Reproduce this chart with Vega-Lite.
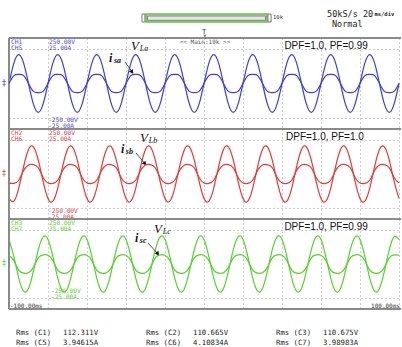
{
"$schema": "https://vega.github.io/schema/vega-lite/v6.json",
"background": "white",
"padding": {"left": 2, "top": 0, "right": 0, "bottom": 0},
"spacing": 0,
"bounds": "flush",
"config": {"view": {"stroke": null}, "axis": {"grid": true, "gridColor": "#9a9a9a", "gridDash": [1, 3], "gridWidth": 1, "labels": false, "ticks": false, "domain": false, "minExtent": 0, "maxExtent": 0}},
"data": {"values": [{}]},
"datasets": {"wave": [
{"t":-100,"va":0,"ia":0,"vb":-135.5,"ib":-5.03,"vc":135.5,"ic":4.88},
{"t":-97.5,"va":112.3,"ia":4.34,"vb":-151.2,"ib":-5.2,"vc":40.5,"ic":1.86},
{"t":-95,"va":158.8,"ia":5.02,"vb":-78.3,"ib":-3.49,"vc":-78.3,"ic":-3.38},
{"t":-92.5,"va":112.3,"ia":4.34,"vb":40.5,"ib":1.91,"vc":-151.2,"ic":-5.05},
{"t":-90,"va":0,"ia":0,"vb":135.5,"ib":5.03,"vc":-135.5,"ic":-4.88},
{"t":-87.5,"va":-112.3,"ia":-4.34,"vb":151.2,"ib":5.2,"vc":-40.5,"ic":-1.86},
{"t":-85,"va":-158.8,"ia":-5.02,"vb":78.3,"ib":3.49,"vc":78.3,"ic":3.38},
{"t":-82.5,"va":-112.3,"ia":-4.34,"vb":-40.5,"ib":-1.91,"vc":151.2,"ic":5.05},
{"t":-80,"va":0,"ia":0,"vb":-135.5,"ib":-5.03,"vc":135.5,"ic":4.88},
{"t":-77.5,"va":112.3,"ia":4.34,"vb":-151.2,"ib":-5.2,"vc":40.5,"ic":1.86},
{"t":-75,"va":158.8,"ia":5.02,"vb":-78.3,"ib":-3.49,"vc":-78.3,"ic":-3.38},
{"t":-72.5,"va":112.3,"ia":4.34,"vb":40.5,"ib":1.91,"vc":-151.2,"ic":-5.05},
{"t":-70,"va":0,"ia":0,"vb":135.5,"ib":5.03,"vc":-135.5,"ic":-4.88},
{"t":-67.5,"va":-112.3,"ia":-4.34,"vb":151.2,"ib":5.2,"vc":-40.5,"ic":-1.86},
{"t":-65,"va":-158.8,"ia":-5.02,"vb":78.3,"ib":3.49,"vc":78.3,"ic":3.38},
{"t":-62.5,"va":-112.3,"ia":-4.34,"vb":-40.5,"ib":-1.91,"vc":151.2,"ic":5.05},
{"t":-60,"va":0,"ia":0,"vb":-135.5,"ib":-5.03,"vc":135.5,"ic":4.88},
{"t":-57.5,"va":112.3,"ia":4.34,"vb":-151.2,"ib":-5.2,"vc":40.5,"ic":1.86},
{"t":-55,"va":158.8,"ia":5.02,"vb":-78.3,"ib":-3.49,"vc":-78.3,"ic":-3.38},
{"t":-52.5,"va":112.3,"ia":4.34,"vb":40.5,"ib":1.91,"vc":-151.2,"ic":-5.05},
{"t":-50,"va":0,"ia":0,"vb":135.5,"ib":5.03,"vc":-135.5,"ic":-4.88},
{"t":-47.5,"va":-112.3,"ia":-4.34,"vb":151.2,"ib":5.2,"vc":-40.5,"ic":-1.86},
{"t":-45,"va":-158.8,"ia":-5.02,"vb":78.3,"ib":3.49,"vc":78.3,"ic":3.38},
{"t":-42.5,"va":-112.3,"ia":-4.34,"vb":-40.5,"ib":-1.91,"vc":151.2,"ic":5.05},
{"t":-40,"va":0,"ia":0,"vb":-135.5,"ib":-5.03,"vc":135.5,"ic":4.88},
{"t":-37.5,"va":112.3,"ia":4.34,"vb":-151.2,"ib":-5.2,"vc":40.5,"ic":1.86},
{"t":-35,"va":158.8,"ia":5.02,"vb":-78.3,"ib":-3.49,"vc":-78.3,"ic":-3.38},
{"t":-32.5,"va":112.3,"ia":4.34,"vb":40.5,"ib":1.91,"vc":-151.2,"ic":-5.05},
{"t":-30,"va":0,"ia":0,"vb":135.5,"ib":5.03,"vc":-135.5,"ic":-4.88},
{"t":-27.5,"va":-112.3,"ia":-4.34,"vb":151.2,"ib":5.2,"vc":-40.5,"ic":-1.86},
{"t":-25,"va":-158.8,"ia":-5.02,"vb":78.3,"ib":3.49,"vc":78.3,"ic":3.38},
{"t":-22.5,"va":-112.3,"ia":-4.34,"vb":-40.5,"ib":-1.91,"vc":151.2,"ic":5.05},
{"t":-20,"va":0,"ia":0,"vb":-135.5,"ib":-5.03,"vc":135.5,"ic":4.88},
{"t":-17.5,"va":112.3,"ia":4.34,"vb":-151.2,"ib":-5.2,"vc":40.5,"ic":1.86},
{"t":-15,"va":158.8,"ia":5.02,"vb":-78.3,"ib":-3.49,"vc":-78.3,"ic":-3.38},
{"t":-12.5,"va":112.3,"ia":4.34,"vb":40.5,"ib":1.91,"vc":-151.2,"ic":-5.05},
{"t":-10,"va":0,"ia":0,"vb":135.5,"ib":5.03,"vc":-135.5,"ic":-4.88},
{"t":-7.5,"va":-112.3,"ia":-4.34,"vb":151.2,"ib":5.2,"vc":-40.5,"ic":-1.86},
{"t":-5,"va":-158.8,"ia":-5.02,"vb":78.3,"ib":3.49,"vc":78.3,"ic":3.38},
{"t":-2.5,"va":-112.3,"ia":-4.34,"vb":-40.5,"ib":-1.91,"vc":151.2,"ic":5.05},
{"t":0,"va":0,"ia":0,"vb":-135.5,"ib":-5.03,"vc":135.5,"ic":4.88},
{"t":2.5,"va":112.3,"ia":4.34,"vb":-151.2,"ib":-5.2,"vc":40.5,"ic":1.86},
{"t":5,"va":158.8,"ia":5.02,"vb":-78.3,"ib":-3.49,"vc":-78.3,"ic":-3.38},
{"t":7.5,"va":112.3,"ia":4.34,"vb":40.5,"ib":1.91,"vc":-151.2,"ic":-5.05},
{"t":10,"va":0,"ia":0,"vb":135.5,"ib":5.03,"vc":-135.5,"ic":-4.88},
{"t":12.5,"va":-112.3,"ia":-4.34,"vb":151.2,"ib":5.2,"vc":-40.5,"ic":-1.86},
{"t":15,"va":-158.8,"ia":-5.02,"vb":78.3,"ib":3.49,"vc":78.3,"ic":3.38},
{"t":17.5,"va":-112.3,"ia":-4.34,"vb":-40.5,"ib":-1.91,"vc":151.2,"ic":5.05},
{"t":20,"va":0,"ia":0,"vb":-135.5,"ib":-5.03,"vc":135.5,"ic":4.88},
{"t":22.5,"va":112.3,"ia":4.34,"vb":-151.2,"ib":-5.2,"vc":40.5,"ic":1.86},
{"t":25,"va":158.8,"ia":5.02,"vb":-78.3,"ib":-3.49,"vc":-78.3,"ic":-3.38},
{"t":27.5,"va":112.3,"ia":4.34,"vb":40.5,"ib":1.91,"vc":-151.2,"ic":-5.05},
{"t":30,"va":0,"ia":0,"vb":135.5,"ib":5.03,"vc":-135.5,"ic":-4.88},
{"t":32.5,"va":-112.3,"ia":-4.34,"vb":151.2,"ib":5.2,"vc":-40.5,"ic":-1.86},
{"t":35,"va":-158.8,"ia":-5.02,"vb":78.3,"ib":3.49,"vc":78.3,"ic":3.38},
{"t":37.5,"va":-112.3,"ia":-4.34,"vb":-40.5,"ib":-1.91,"vc":151.2,"ic":5.05},
{"t":40,"va":0,"ia":0,"vb":-135.5,"ib":-5.03,"vc":135.5,"ic":4.88},
{"t":42.5,"va":112.3,"ia":4.34,"vb":-151.2,"ib":-5.2,"vc":40.5,"ic":1.86},
{"t":45,"va":158.8,"ia":5.02,"vb":-78.3,"ib":-3.49,"vc":-78.3,"ic":-3.38},
{"t":47.5,"va":112.3,"ia":4.34,"vb":40.5,"ib":1.91,"vc":-151.2,"ic":-5.05},
{"t":50,"va":0,"ia":0,"vb":135.5,"ib":5.03,"vc":-135.5,"ic":-4.88},
{"t":52.5,"va":-112.3,"ia":-4.34,"vb":151.2,"ib":5.2,"vc":-40.5,"ic":-1.86},
{"t":55,"va":-158.8,"ia":-5.02,"vb":78.3,"ib":3.49,"vc":78.3,"ic":3.38},
{"t":57.5,"va":-112.3,"ia":-4.34,"vb":-40.5,"ib":-1.91,"vc":151.2,"ic":5.05},
{"t":60,"va":0,"ia":0,"vb":-135.5,"ib":-5.03,"vc":135.5,"ic":4.88},
{"t":62.5,"va":112.3,"ia":4.34,"vb":-151.2,"ib":-5.2,"vc":40.5,"ic":1.86},
{"t":65,"va":158.8,"ia":5.02,"vb":-78.3,"ib":-3.49,"vc":-78.3,"ic":-3.38},
{"t":67.5,"va":112.3,"ia":4.34,"vb":40.5,"ib":1.91,"vc":-151.2,"ic":-5.05},
{"t":70,"va":0,"ia":0,"vb":135.5,"ib":5.03,"vc":-135.5,"ic":-4.88},
{"t":72.5,"va":-112.3,"ia":-4.34,"vb":151.2,"ib":5.2,"vc":-40.5,"ic":-1.86},
{"t":75,"va":-158.8,"ia":-5.02,"vb":78.3,"ib":3.49,"vc":78.3,"ic":3.38},
{"t":77.5,"va":-112.3,"ia":-4.34,"vb":-40.5,"ib":-1.91,"vc":151.2,"ic":5.05},
{"t":80,"va":0,"ia":0,"vb":-135.5,"ib":-5.03,"vc":135.5,"ic":4.88},
{"t":82.5,"va":112.3,"ia":4.34,"vb":-151.2,"ib":-5.2,"vc":40.5,"ic":1.86},
{"t":85,"va":158.8,"ia":5.02,"vb":-78.3,"ib":-3.49,"vc":-78.3,"ic":-3.38},
{"t":87.5,"va":112.3,"ia":4.34,"vb":40.5,"ib":1.91,"vc":-151.2,"ic":-5.05},
{"t":90,"va":0,"ia":0,"vb":135.5,"ib":5.03,"vc":-135.5,"ic":-4.88},
{"t":92.5,"va":-112.3,"ia":-4.34,"vb":151.2,"ib":5.2,"vc":-40.5,"ic":-1.86},
{"t":95,"va":-158.8,"ia":-5.02,"vb":78.3,"ib":3.49,"vc":78.3,"ic":3.38},
{"t":97.5,"va":-112.3,"ia":-4.34,"vb":-40.5,"ib":-1.91,"vc":151.2,"ic":5.05},
{"t":100,"va":0,"ia":0,"vb":-135.5,"ib":-5.03,"vc":135.5,"ic":4.88}
]},
"vconcat": [
{
 "width": 392, "height": 38,
 "layer": [
  {"mark": {"type": "rect", "fill": "#d4d4d4", "stroke": "#5cc83c", "strokeWidth": 1.5},
   "encoding": {"x": {"datum": -29.7, "scale": {"domain": [-100, 101.03], "nice": false, "zero": false}, "axis": null}, "x2": {"datum": 32.3},
                "y": {"datum": 36.8, "scale": {"domain": [0, 100], "reverse": true, "nice": false}, "axis": null}, "y2": {"datum": 57.9}}},
  {"mark": {"type": "rect", "fill": "#e6e6e6", "stroke": "#808080", "strokeWidth": 1},
   "encoding": {"x": {"datum": -29.0}, "x2": {"datum": 31.6}, "y": {"datum": 42.1}, "y2": {"datum": 53.5}}},
  {"mark": {"type": "rect", "fill": "#ffffff", "stroke": "#777777", "strokeWidth": 1},
   "encoding": {"x": {"datum": -31.8}, "x2": {"datum": -30.3}, "y": {"datum": 36.8}, "y2": {"datum": 57.9}}},
  {"mark": {"type": "rect", "fill": "#ffffff", "stroke": "#777777", "strokeWidth": 1},
   "encoding": {"x": {"datum": 32.8}, "x2": {"datum": 34.4}, "y": {"datum": 36.8}, "y2": {"datum": 57.9}}},
  {"mark": {"type": "text", "text": "10k", "align": "left", "baseline": "middle", "fontSize": 5.5, "font": "DejaVu Sans Mono", "color": "#333333"},
   "encoding": {"x": {"datum": 35.4}, "y": {"datum": 46}}},
  {"mark": {"type": "text", "text": "50kS/s", "align": "left", "baseline": "middle", "fontSize": 8.5, "font": "DejaVu Sans Mono", "color": "#222222"},
   "encoding": {"x": {"datum": 63.1}, "y": {"datum": 36.8}}},
  {"mark": {"type": "text", "text": "20", "align": "left", "baseline": "middle", "fontSize": 8.5, "font": "DejaVu Sans Mono", "color": "#222222"},
   "encoding": {"x": {"datum": 81.5}, "y": {"datum": 36.8}}},
  {"mark": {"type": "text", "text": "ms/div", "align": "left", "baseline": "middle", "fontSize": 5.5, "font": "DejaVu Sans Mono", "fontWeight": "bold", "color": "#222222"},
   "encoding": {"x": {"datum": 87.4}, "y": {"datum": 38}}},
  {"mark": {"type": "text", "text": "Normal", "align": "left", "baseline": "middle", "fontSize": 8.5, "font": "DejaVu Sans Mono", "color": "#222222"},
   "encoding": {"x": {"datum": 65.6}, "y": {"datum": 63.2}}},
  {"mark": {"type": "text", "text": "T", "align": "center", "baseline": "middle", "fontSize": 7, "font": "DejaVu Sans Mono", "color": "#333333"},
   "encoding": {"x": {"datum": 0}, "y": {"datum": 84}}},
  {"mark": {"type": "point", "shape": "triangle-down", "filled": true, "color": "#333333", "size": 10},
   "encoding": {"x": {"datum": 0.5}, "y": {"datum": 95}}}
 ]
},
{
 "width": 392, "height": 91,
 "resolve": {"scale": {"y": "independent"}},
 "layer": [
  {"layer": [
    {"data": {"name": "wave"},
     "mark": {"type": "line", "color": "#3c3cdc", "strokeWidth": 1.2, "interpolate": "natural"},
     "encoding": {
       "x": {"field": "t", "type": "quantitative", "scale": {"domain": [-100, 101.03], "nice": false, "zero": false}, "axis": {"values": [-80, -60, -40, -20, 0, 20, 40, 60, 80, 100], "title": null}},
       "y": {"field": "va", "type": "quantitative", "scale": {"domain": [-250, 250], "nice": false, "zero": false}, "axis": {"values": [-187.5, -125, -62.5, 0, 62.5, 125, 187.5], "title": null}}}},
    {"mark": {"type": "rule", "color": "#8a8a8a", "strokeWidth": 2}, "encoding": {"x": {"datum": -100}}},
    {"mark": {"type": "rule", "color": "#8a8a8a", "strokeWidth": 2}, "encoding": {"x": {"datum": -100}, "x2": {"datum": 101.03}, "y": {"datum": 250}}},
    {"mark": {"type": "text", "text": ["CH1", "CH5"], "align": "left", "baseline": "top", "fontSize": 6.2, "lineHeight": 6, "font": "DejaVu Sans Mono", "color": "#4a4ae6"},
     "encoding": {"x": {"datum": -99}, "y": {"datum": 247}}},
    {"mark": {"type": "text", "text": ["250.00V", "25.00A"], "align": "left", "baseline": "top", "fontSize": 6.2, "lineHeight": 6, "font": "DejaVu Sans Mono", "color": "#4a4ae6"},
     "encoding": {"x": {"datum": -79.5}, "y": {"datum": 247}}},
    {"mark": {"type": "text", "text": ["-250.00V", "-25.00A"], "align": "left", "baseline": "top", "fontSize": 6.2, "lineHeight": 6, "font": "DejaVu Sans Mono", "color": "#4a4ae6"},
     "encoding": {"x": {"datum": -80}, "y": {"datum": -184}}},
    {"mark": {"type": "text", "text": "<< Main:10k >>", "align": "center", "baseline": "middle", "fontSize": 6, "font": "DejaVu Sans Mono", "color": "#555555"},
     "encoding": {"x": {"datum": 0.5}, "y": {"datum": 228}}},
    {"mark": {"type": "text", "text": "DPF=1.0, PF=0.99", "align": "center", "baseline": "middle", "fontSize": 10, "font": "Liberation Sans", "color": "#111111"},
     "encoding": {"x": {"datum": 62.6}, "y": {"datum": 206}}},
    {"mark": {"type": "text", "text": "V", "align": "center", "baseline": "alphabetic", "fontSize": 13, "font": "Liberation Serif", "fontStyle": "italic", "color": "#111111"},
     "encoding": {"x": {"datum": -35.4}, "y": {"datum": 184}}},
    {"mark": {"type": "text", "text": "La", "align": "left", "baseline": "alphabetic", "fontSize": 8, "font": "Liberation Serif", "fontStyle": "italic", "color": "#111111"},
     "encoding": {"x": {"datum": -32.9}, "y": {"datum": 178.6}}},
    {"mark": {"type": "text", "text": "i", "align": "left", "baseline": "alphabetic", "fontSize": 12, "font": "Liberation Serif", "fontStyle": "italic", "fontWeight": "bold", "color": "#111111"},
     "encoding": {"x": {"datum": -48.7}, "y": {"datum": 118}}},
    {"mark": {"type": "text", "text": "sa", "align": "left", "baseline": "alphabetic", "fontSize": 8, "font": "Liberation Serif", "fontStyle": "italic", "fontWeight": "bold", "color": "#111111"},
     "encoding": {"x": {"datum": -46.2}, "y": {"datum": 112.6}}},
    {"mark": {"type": "rule", "color": "#222222", "strokeWidth": 0.8},
     "encoding": {"x": {"datum": -40.5}, "y": {"datum": 118}, "x2": {"datum": -36.4}, "y2": {"datum": 57.7}}},
    {"mark": {"type": "point", "shape": "triangle-up", "filled": true, "color": "#111111", "size": 22, "angle": 144, "opacity": 1},
     "encoding": {"x": {"datum": -36.9}, "y": {"datum": 63}}},
    {"mark": {"type": "text", "text": "‡", "align": "center", "baseline": "middle", "fontSize": 8, "font": "DejaVu Sans", "color": "#4a4ae6", "dx": -5},
     "encoding": {"x": {"datum": -100}, "y": {"datum": 0}}}
  ]},
  {"data": {"name": "wave"},
   "mark": {"type": "line", "color": "#3c3cdc", "strokeWidth": 1.2, "interpolate": "natural"},
   "encoding": {"x": {"field": "t", "type": "quantitative"},
                "y": {"field": "ia", "type": "quantitative", "scale": {"domain": [-25, 25], "nice": false, "zero": false}, "axis": null}}}
 ]
},
{
 "width": 392, "height": 90,
 "resolve": {"scale": {"y": "independent"}},
 "layer": [
  {"layer": [
    {"data": {"name": "wave"},
     "mark": {"type": "line", "color": "#e03a3a", "strokeWidth": 1.2, "interpolate": "natural"},
     "encoding": {
       "x": {"field": "t", "type": "quantitative", "scale": {"domain": [-100, 101.03], "nice": false, "zero": false}, "axis": {"values": [-80, -60, -40, -20, 0, 20, 40, 60, 80, 100], "title": null}},
       "y": {"field": "vb", "type": "quantitative", "scale": {"domain": [-250, 250], "nice": false, "zero": false}, "axis": {"values": [-187.5, -125, -62.5, 0, 62.5, 125, 187.5], "title": null}}}},
    {"mark": {"type": "rule", "color": "#8a8a8a", "strokeWidth": 2}, "encoding": {"x": {"datum": -100}}},
    {"mark": {"type": "rule", "color": "#8a8a8a", "strokeWidth": 2}, "encoding": {"x": {"datum": -100}, "x2": {"datum": 101.03}, "y": {"datum": 250}}},
    {"mark": {"type": "text", "text": ["CH2", "CH6"], "align": "left", "baseline": "top", "fontSize": 6.2, "lineHeight": 6, "font": "DejaVu Sans Mono", "color": "#e04646"},
     "encoding": {"x": {"datum": -99}, "y": {"datum": 247}}},
    {"mark": {"type": "text", "text": ["250.00V", "25.00A"], "align": "left", "baseline": "top", "fontSize": 6.2, "lineHeight": 6, "font": "DejaVu Sans Mono", "color": "#e04646"},
     "encoding": {"x": {"datum": -79.5}, "y": {"datum": 247}}},
    {"mark": {"type": "text", "text": ["-250.00V", "-25.00A"], "align": "left", "baseline": "top", "fontSize": 6.2, "lineHeight": 6, "font": "DejaVu Sans Mono", "color": "#e04646"},
     "encoding": {"x": {"datum": -80}, "y": {"datum": -188}}},
    {"mark": {"type": "text", "text": "DPF=1.0, PF=1.0", "align": "center", "baseline": "middle", "fontSize": 10, "font": "Liberation Sans", "color": "#111111"},
     "encoding": {"x": {"datum": 62}, "y": {"datum": 206}}},
    {"mark": {"type": "text", "text": "V", "align": "center", "baseline": "alphabetic", "fontSize": 13, "font": "Liberation Serif", "fontStyle": "italic", "color": "#111111"},
     "encoding": {"x": {"datum": -30.8}, "y": {"datum": 180.5}}},
    {"mark": {"type": "text", "text": "Lb", "align": "left", "baseline": "alphabetic", "fontSize": 8, "font": "Liberation Serif", "fontStyle": "italic", "color": "#111111"},
     "encoding": {"x": {"datum": -28.3}, "y": {"datum": 175}}},
    {"mark": {"type": "text", "text": "i", "align": "left", "baseline": "alphabetic", "fontSize": 12, "font": "Liberation Serif", "fontStyle": "italic", "fontWeight": "bold", "color": "#111111"},
     "encoding": {"x": {"datum": -42.6}, "y": {"datum": 116.7}}},
    {"mark": {"type": "text", "text": "sb", "align": "left", "baseline": "alphabetic", "fontSize": 8, "font": "Liberation Serif", "fontStyle": "italic", "fontWeight": "bold", "color": "#111111"},
     "encoding": {"x": {"datum": -40.1}, "y": {"datum": 111}}},
    {"mark": {"type": "rule", "color": "#222222", "strokeWidth": 0.8},
     "encoding": {"x": {"datum": -34.9}, "y": {"datum": 116.7}, "x2": {"datum": -29.7}, "y2": {"datum": 50}}},
    {"mark": {"type": "point", "shape": "triangle-up", "filled": true, "color": "#111111", "size": 22, "angle": 143, "opacity": 1},
     "encoding": {"x": {"datum": -30.3}, "y": {"datum": 57}}},
    {"mark": {"type": "text", "text": "‡", "align": "center", "baseline": "middle", "fontSize": 8, "font": "DejaVu Sans", "color": "#e04646", "dx": -5},
     "encoding": {"x": {"datum": -100}, "y": {"datum": 0}}}
  ]},
  {"data": {"name": "wave"},
   "mark": {"type": "line", "color": "#e03a3a", "strokeWidth": 1.2, "interpolate": "natural"},
   "encoding": {"x": {"field": "t", "type": "quantitative"},
                "y": {"field": "ib", "type": "quantitative", "scale": {"domain": [-25, 25], "nice": false, "zero": false}, "axis": null}}}
 ]
},
{
 "width": 392, "height": 90,
 "resolve": {"scale": {"y": "independent"}},
 "layer": [
  {"layer": [
    {"data": {"name": "wave"},
     "mark": {"type": "line", "color": "#55d22a", "strokeWidth": 1.2, "interpolate": "natural"},
     "encoding": {
       "x": {"field": "t", "type": "quantitative", "scale": {"domain": [-100, 101.03], "nice": false, "zero": false}, "axis": {"values": [-80, -60, -40, -20, 0, 20, 40, 60, 80, 100], "title": null}},
       "y": {"field": "vc", "type": "quantitative", "scale": {"domain": [-250, 250], "nice": false, "zero": false}, "axis": {"values": [-187.5, -125, -62.5, 0, 62.5, 125, 187.5], "title": null}}}},
    {"mark": {"type": "rule", "color": "#8a8a8a", "strokeWidth": 2}, "encoding": {"x": {"datum": -100}}},
    {"mark": {"type": "rule", "color": "#8a8a8a", "strokeWidth": 2}, "encoding": {"x": {"datum": -100}, "x2": {"datum": 101.03}, "y": {"datum": 250}}},
    {"mark": {"type": "rule", "color": "#8a8a8a", "strokeWidth": 2}, "encoding": {"x": {"datum": -100}, "x2": {"datum": 101.03}, "y": {"datum": -250}}},
    {"mark": {"type": "text", "text": ["CH3", "CH7"], "align": "left", "baseline": "top", "fontSize": 6.2, "lineHeight": 6, "font": "DejaVu Sans Mono", "color": "#5ad22d"},
     "encoding": {"x": {"datum": -99}, "y": {"datum": 246}}},
    {"mark": {"type": "text", "text": ["250.00V", "25.00A"], "align": "left", "baseline": "top", "fontSize": 6.2, "lineHeight": 6, "font": "DejaVu Sans Mono", "color": "#5ad22d"},
     "encoding": {"x": {"datum": -79.5}, "y": {"datum": 246}}},
    {"mark": {"type": "text", "text": ["-250.00V", "-25.00A"], "align": "left", "baseline": "top", "fontSize": 6.2, "lineHeight": 6, "font": "DejaVu Sans Mono", "color": "#5ad22d"},
     "encoding": {"x": {"datum": -78.5}, "y": {"datum": -133}}},
    {"mark": {"type": "text", "text": "DPF=1.0, PF=0.99", "align": "center", "baseline": "middle", "fontSize": 10, "font": "Liberation Sans", "color": "#111111"},
     "encoding": {"x": {"datum": 62.6}, "y": {"datum": 206}}},
    {"mark": {"type": "text", "text": "V", "align": "center", "baseline": "alphabetic", "fontSize": 13, "font": "Liberation Serif", "fontStyle": "italic", "color": "#111111"},
     "encoding": {"x": {"datum": -23.6}, "y": {"datum": 172}}},
    {"mark": {"type": "text", "text": "Lc", "align": "left", "baseline": "alphabetic", "fontSize": 8, "font": "Liberation Serif", "fontStyle": "italic", "color": "#111111"},
     "encoding": {"x": {"datum": -21.1}, "y": {"datum": 166.5}}},
    {"mark": {"type": "text", "text": "i", "align": "left", "baseline": "alphabetic", "fontSize": 12, "font": "Liberation Serif", "fontStyle": "italic", "fontWeight": "bold", "color": "#111111"},
     "encoding": {"x": {"datum": -35.4}, "y": {"datum": 122}}},
    {"mark": {"type": "text", "text": "sc", "align": "left", "baseline": "alphabetic", "fontSize": 8, "font": "Liberation Serif", "fontStyle": "italic", "fontWeight": "bold", "color": "#111111"},
     "encoding": {"x": {"datum": -32.9}, "y": {"datum": 116.7}}},
    {"mark": {"type": "rule", "color": "#222222", "strokeWidth": 0.8},
     "encoding": {"x": {"datum": -28.7}, "y": {"datum": 116.7}, "x2": {"datum": -23.1}, "y2": {"datum": 50}}},
    {"mark": {"type": "point", "shape": "triangle-up", "filled": true, "color": "#111111", "size": 22, "angle": 145, "opacity": 1},
     "encoding": {"x": {"datum": -23.7}, "y": {"datum": 57}}},
    {"mark": {"type": "text", "text": "‡", "align": "center", "baseline": "middle", "fontSize": 8, "font": "DejaVu Sans", "color": "#5ad22d", "dx": -5},
     "encoding": {"x": {"datum": -100}, "y": {"datum": 0}}},
    {"mark": {"type": "text", "text": "-100.00ms", "align": "left", "baseline": "middle", "fontSize": 6, "font": "DejaVu Sans Mono", "color": "#333333"},
     "encoding": {"x": {"datum": -99.5}, "y": {"datum": -233}}},
    {"mark": {"type": "text", "text": "100.00ms", "align": "right", "baseline": "middle", "fontSize": 6, "font": "DejaVu Sans Mono", "color": "#333333"},
     "encoding": {"x": {"datum": 100.5}, "y": {"datum": -233}}}
  ]},
  {"data": {"name": "wave"},
   "mark": {"type": "line", "color": "#55d22a", "strokeWidth": 1.2, "interpolate": "natural"},
   "encoding": {"x": {"field": "t", "type": "quantitative"},
                "y": {"field": "ic", "type": "quantitative", "scale": {"domain": [-25, 25], "nice": false, "zero": false}, "axis": null}}}
 ]
},
{
 "width": 392, "height": 38,
 "data": {"values": [
   {"ch": "C1", "phase": "a", "qty": "V", "label": "Rms (C1)", "value": "112.311V"},
   {"ch": "C2", "phase": "b", "qty": "V", "label": "Rms (C2)", "value": "110.665V"},
   {"ch": "C3", "phase": "c", "qty": "V", "label": "Rms (C3)", "value": "110.675V"},
   {"ch": "C5", "phase": "a", "qty": "A", "label": "Rms (C5)", "value": "3.94615A"},
   {"ch": "C6", "phase": "b", "qty": "A", "label": "Rms (C6)", "value": "4.10834A"},
   {"ch": "C7", "phase": "c", "qty": "A", "label": "Rms (C7)", "value": "3.98983A"}
 ]},
 "encoding": {
   "x": {"field": "phase", "type": "nominal", "scale": {"type": "point", "domain": ["a", "b", "c"], "range": [7, 267], "padding": 0}, "axis": null},
   "y": {"field": "qty", "type": "nominal", "scale": {"type": "point", "domain": ["V", "A"], "range": [24, 34], "padding": 0}, "axis": null}
 },
 "layer": [
   {"mark": {"type": "text", "align": "left", "baseline": "middle", "fontSize": 7.3, "font": "DejaVu Sans Mono", "color": "#222222"},
    "encoding": {"text": {"field": "label"}}},
   {"mark": {"type": "text", "align": "left", "baseline": "middle", "fontSize": 7.3, "font": "DejaVu Sans Mono", "color": "#222222", "dx": 47},
    "encoding": {"text": {"field": "value"}}}
 ]
}
]
}
